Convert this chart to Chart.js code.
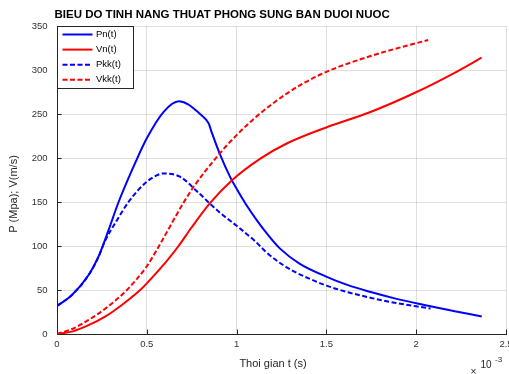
<!DOCTYPE html>
<html>
<head>
<meta charset="utf-8">
<title>Bieu do tinh nang thuat phong sung ban duoi nuoc</title>
<script src="https://cdn.jsdelivr.net/npm/chart.js@4.4.1/dist/chart.umd.min.js"></script>
<style>
  html, body { margin: 0; padding: 0; background: #fff; }
  #khung { width: 509px; height: 374px; }
</style>
</head>
<body>
<div id="khung"><canvas id="bieudo" width="509" height="374"></canvas></div>
<script>
// thoi gian tinh theo 10^-3 s
const tPn = [0, 0.083, 0.176, 0.231, 0.287, 0.343, 0.441, 0.5, 0.594, 0.678, 0.73, 0.78, 0.83, 0.845, 0.86, 0.91, 0.965, 1.0, 1.05, 1.117, 1.177, 1.242, 1.35, 1.502, 1.62, 1.742, 1.88, 2.02, 2.2, 2.365];
const Pn  = [31.8, 44.3, 67, 88, 118, 150, 197, 222.4, 252.5, 264.4, 261, 253, 243.5, 239, 230, 203, 178, 165, 148, 128, 112, 97, 80, 65, 55.5, 48, 40.5, 34, 26.5, 20];

const tVn = [0, 0.088, 0.176, 0.27, 0.361, 0.463, 0.5, 0.607, 0.677, 0.749, 0.853, 0.973, 1.13, 1.279, 1.502, 1.742, 2.002, 2.206, 2.364];
const Vn  = [0, 3, 10, 20, 33, 50, 57.6, 82, 100, 121, 149, 174.5, 199, 216.5, 235, 252, 275, 296, 314];

const tPkk = [0, 0.083, 0.176, 0.231, 0.268, 0.33, 0.398, 0.454, 0.5, 0.547, 0.594, 0.687, 0.78, 0.873, 0.918, 1.0, 1.1, 1.168, 1.25, 1.33, 1.409, 1.5, 1.62, 1.75, 1.88, 2.0, 2.08];
const Pkk  = [31.8, 44.3, 67, 87.5, 106, 128, 150, 164, 173, 179.5, 182.5, 178.5, 162, 144, 136, 123, 106, 92.5, 79.5, 70, 62.5, 55, 47.5, 41, 35.5, 31.5, 29];

const tVkk = [0, 0.088, 0.176, 0.27, 0.389, 0.5, 0.565, 0.704, 0.76, 0.893, 1.0, 1.112, 1.279, 1.47, 1.742, 2.0, 2.067];
const Vkk  = [0, 6, 16, 29, 50, 77, 99, 149, 167, 202, 226, 247.3, 273.2, 295.2, 315.6, 330.5, 334];

const xTicks = [0, 0.5, 1, 1.5, 2, 2.5];
const yTicks = [0, 50, 100, 150, 200, 250, 300, 350];

const FONT = '"Liberation Sans", Arial, Helvetica, sans-serif';
const mauTruc = '#262626';
const mauLuoi = 'rgba(38,38,38,0.15)';
const netDut = [5, 2.5];

function ghep(t, v) {
  return t.map((x, i) => ({ x: x, y: v[i] }));
}

// ve tieu de, nhan truc, vach chia va chu giai
const veThem = {
  id: 'veThem',
  beforeDatasetsDraw(chart) {
    const { ctx, chartArea: a, scales: { x, y } } = chart;
    ctx.save();
    ctx.strokeStyle = mauTruc;
    ctx.lineWidth = 1;
    ctx.beginPath();
    x.ticks.forEach(t => {
      const px = Math.round(x.getPixelForValue(t.value)) + 0.5;
      ctx.moveTo(px, a.bottom);
      ctx.lineTo(px, a.bottom - 4.5);
    });
    y.ticks.forEach(t => {
      const py = Math.round(y.getPixelForValue(t.value)) + 0.5;
      ctx.moveTo(a.left, py);
      ctx.lineTo(a.left + 4.5, py);
    });
    ctx.stroke();
    ctx.restore();
  },
  afterDraw(chart) {
    const { ctx, chartArea: a } = chart;
    ctx.save();

    ctx.fillStyle = '#000';
    ctx.font = 'bold 11.5px ' + FONT;
    ctx.textAlign = 'left';
    ctx.textBaseline = 'alphabetic';
    ctx.fillText('BIEU DO TINH NANG THUAT PHONG SUNG BAN DUOI NUOC', 54.5, 17.5);

    ctx.fillStyle = mauTruc;
    ctx.font = '11px ' + FONT;
    ctx.textAlign = 'center';
    ctx.textBaseline = 'middle';
    ctx.fillText('Thoi gian t (s)', 273, 364);

    ctx.save();
    ctx.translate(13.5, 194);
    ctx.rotate(-Math.PI / 2);
    ctx.fillText('P (Mpa); V(m/s)', 0, 0);
    ctx.restore();

    // he so x 10^-3 cua truc hoanh
    ctx.textAlign = 'left';
    ctx.font = '10px ' + FONT;
    ctx.fillText('\u00d7', 470.5, 372);
    ctx.fillText('10', 480.5, 365);
    ctx.font = '8px ' + FONT;
    ctx.fillText('-3', 495, 360);

    // chu giai
    const L = a.left + 0.5, T = a.top + 0.5, W = 76, H = 62;
    ctx.fillStyle = '#fff';
    ctx.fillRect(L, T, W, H);
    ctx.strokeStyle = mauTruc;
    ctx.lineWidth = 1;
    ctx.strokeRect(L, T, W, H);
    ctx.font = '9.5px ' + FONT;
    chart.data.datasets.forEach((d, i) => {
      const yy = T + 8 + i * 15.1;
      ctx.strokeStyle = d.borderColor;
      ctx.lineWidth = 2;
      ctx.setLineDash(d.borderDash || []);
      ctx.beginPath();
      ctx.moveTo(L + 5, yy);
      ctx.lineTo(L + 35, yy);
      ctx.stroke();
      ctx.setLineDash([]);
      ctx.fillStyle = '#000';
      ctx.fillText(d.label, L + 38.5, yy);
    });
    ctx.restore();
  }
};

const kieuChu = { family: FONT, size: 9.5 };

new Chart(document.getElementById('bieudo'), {
  type: 'line',
  data: {
    datasets: [
      { label: 'Pn(t)', data: ghep(tPn, Pn), borderColor: '#0000ff', order: 4 },
      { label: 'Vn(t)', data: ghep(tVn, Vn), borderColor: '#ff0000', order: 3 },
      { label: 'Pkk(t)', data: ghep(tPkk, Pkk), borderColor: '#0000ff', borderDash: netDut, order: 2 },
      { label: 'Vkk(t)', data: ghep(tVkk, Vkk), borderColor: '#ff0000', borderDash: netDut, order: 1 }
    ]
  },
  options: {
    responsive: false,
    animation: false,
    layout: { padding: { left: 0, right: 3, top: 26, bottom: 0 } },
    elements: {
      line: { borderWidth: 2, fill: false, cubicInterpolationMode: 'monotone' },
      point: { radius: 0, hoverRadius: 0 }
    },
    plugins: {
      legend: { display: false },
      title: { display: false },
      tooltip: { enabled: false }
    },
    scales: {
      x: {
        type: 'linear',
        min: 0,
        max: 2.5,
        afterBuildTicks: s => { s.ticks = xTicks.map(v => ({ value: v })); },
        afterFit: s => { s.height = 40; s.paddingLeft = 0; s.paddingRight = 0; },
        grid: { color: mauLuoi, drawTicks: false },
        border: { color: mauTruc, width: 1 },
        ticks: {
          padding: 5, color: '#333', font: kieuChu,
          maxRotation: 0, autoSkip: false, callback: v => String(v)
        }
      },
      y: {
        min: 0,
        max: 350,
        afterBuildTicks: s => { s.ticks = yTicks.map(v => ({ value: v })); },
        afterFit: s => { s.width = 57; },
        grid: { color: mauLuoi, drawTicks: false },
        border: { color: mauTruc, width: 1 },
        ticks: { padding: 9.5, color: '#333', font: kieuChu, callback: v => String(v) }
      }
    }
  },
  plugins: [veThem]
});
</script>
</body>
</html>
